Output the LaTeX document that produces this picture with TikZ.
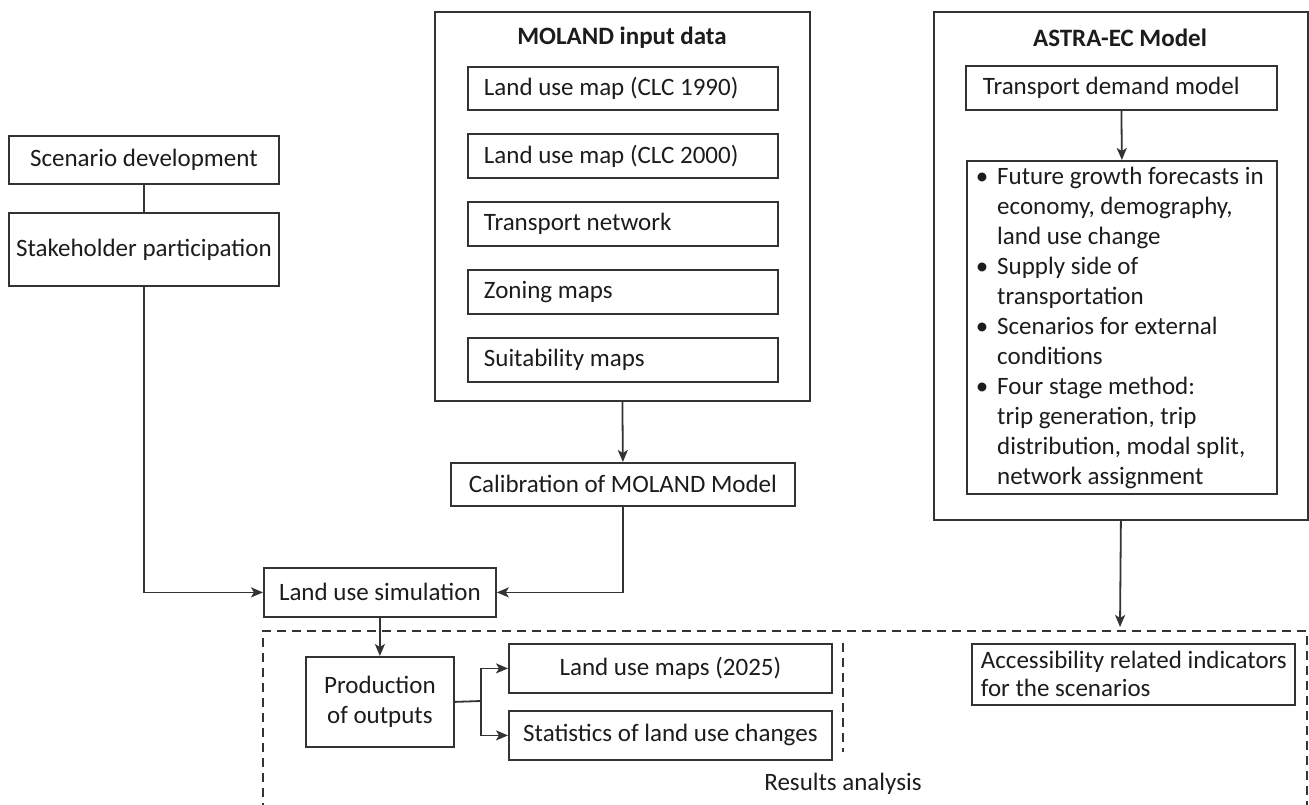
\documentclass[tikz,border=0pt]{standalone}
\usepackage{fontspec}
\setmainfont{Carlito}
\usetikzlibrary{arrows.meta}
\definecolor{ink}{HTML}{1E1B1C}
\definecolor{linec}{HTML}{333333}
\newcommand\nsp{\spaceskip=0pt\relax\xspaceskip=0pt\relax}
\begin{document}
\begin{tikzpicture}[x=1pt,y=-1pt,
  every node/.style={text=ink},
  box/.style={draw=linec, line width=1.8pt, inner sep=0pt, anchor=north west, font=\fontsize{25}{30}\selectfont},
  lbox/.style={box, align=left},
  txt/.style={font=\fontsize{25}{30}\selectfont, inner sep=0pt},
  conn/.style={draw=linec, line width=1.8pt},
  arr/.style={conn, -{Stealth[length=12pt,width=10pt,inset=3pt]}},
  dashbox/.style={draw=linec, line width=1.5pt, dash pattern=on 9pt off 6pt}
]
\useasboundingbox (0,0) rectangle (1309,805);

% left column
\node[box, minimum width=270pt, minimum height=48pt] (scen) at (8,135) {Scenario development};
\node[box, minimum width=270pt, minimum height=73pt] (stake) at (8,212) {Stakeholder participation};

% MOLAND input data
\node[box, minimum width=375pt, minimum height=389pt] (moland) at (434,11) {};
\node[txt, font=\fontsize{25}{30}\selectfont\bfseries] (molandt) at (622,38) {MOLAND input data};
\node[lbox, text width=278pt, inner xsep=16pt, minimum height=43pt] (m1) at (467,66) {\nsp Land use map (CLC 1990)};
\node[lbox, text width=278pt, inner xsep=16pt, minimum height=44pt] (m2) at (467,133) {\nsp Land use map (CLC 2000)};
\node[lbox, text width=278pt, inner xsep=16pt, minimum height=44pt] (m3) at (467,201) {\nsp Transport network};
\node[lbox, text width=278pt, inner xsep=16pt, minimum height=44pt] (m4) at (467,269) {\nsp Zoning maps};
\node[lbox, text width=278pt, inner xsep=16pt, minimum height=44pt] (m5) at (467,337) {\nsp Suitability maps};

\node[box, minimum width=344pt, minimum height=43pt] (calib) at (450,462) {Calibration of MOLAND Model};
\node[box, minimum width=232pt, minimum height=49pt] (lus) at (263,567) {Land use simulation};

% ASTRA-EC Model
\node[box, minimum width=374pt, minimum height=508pt] (astra) at (933,11) {};
\node[txt, font=\fontsize{25}{30}\selectfont\bfseries] (astrat) at (1120,38) {ASTRA-EC Model};
\node[lbox, text width=277pt, inner xsep=17pt, minimum height=44pt] (tdm) at (965,65) {\nsp Transport demand model};
\node[box, minimum width=310pt, minimum height=333pt] (bul) at (966,160) {};
\node[txt, anchor=north west] (bult) at (967,163) {\begin{tabular}{@{}l@{}l@{}}
\makebox[30pt][c]{\textbullet} & Future growth forecasts in\\
 & economy, demography,\\
 & land use change\\
\makebox[30pt][c]{\textbullet} & Supply side of\\
 & transportation\\
\makebox[30pt][c]{\textbullet} & Scenarios for external\\
 & conditions\\
\makebox[30pt][c]{\textbullet} & Four stage method:\\
 & trip generation, trip\\
 & distribution, modal split,\\
 & network assignment
\end{tabular}};

% results
\node[box, align=center, minimum width=148pt, minimum height=90pt] (prod) at (305,656) {Production\\of outputs};
\node[box, minimum width=323pt, minimum height=49pt] (lum) at (508,643) {Land use maps (2025)};
\node[box, minimum width=323pt, minimum height=49pt] (stat) at (508,710) {Statistics of land use changes};
\node[lbox, font=\fontsize{25}{28}\selectfont, text width=305pt, inner xsep=9pt, minimum height=61pt] (acc) at (971,643) {\nsp\mbox{Accessibility related indicators}\\\mbox{for the scenarios}};
\node[txt] (res) at (843,784) {Results analysis};

\draw[dashbox] (263,812) -- (263,631) -- (1307,631) -- (1307,812);
\draw[dashbox] (843,643) -- (843,752);

% connectors
\draw[conn] (scen.south) -- (stake.north);
\draw[arr] (stake.south) |- (lus.west);
\draw[arr] (moland.south) -- (calib.north);
\draw[arr] (calib.south) |- (lus.east);
\draw[arr] (lus.south) -- (prod.north);
\coordinate (br) at (481,701);
\draw[conn] (prod.east) -- (br);
\draw[arr] (br) |- (lum.west);
\draw[arr] (br) |- (stat.west);
\draw[arr] (tdm.south) -- (bul.north);
\coordinate (dtop) at (1120,627);
\draw[arr] (astra.south) -- (dtop);
\end{tikzpicture}
\end{document}
